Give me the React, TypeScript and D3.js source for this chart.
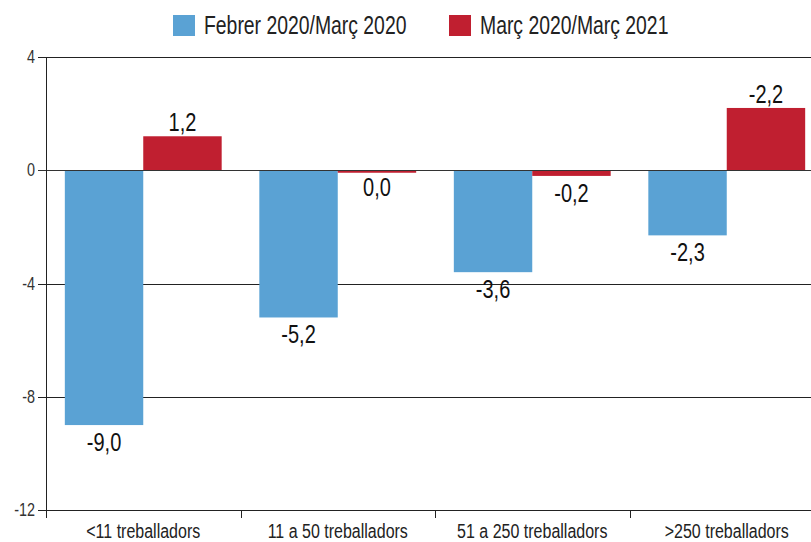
import React, { useEffect, useRef } from "react";
import * as d3 from "d3";

const categories = ["<11 treballadors", "11 a 50 treballadors", "51 a 250 treballadors", ">250 treballadors"];
const seriesNames = ["Febrer 2020/Març 2020", "Març 2020/Març 2021"];
const febMar2020 = [-9.0, -5.2, -3.6, -2.3];
const mar2020Mar2021 = [1.2, 0.0, -0.2, 2.2];
// labels as printed in the source chart
const febLabels = ["-9,0", "-5,2", "-3,6", "-2,3"];
const marLabels = ["1,2", "0,0", "-0,2", "-2,2"];
const yTicks = [4, 0, -4, -8, -12];

const colors = ["#5aa2d4", "#c01f30"];
const font = "'Liberation Sans', Arial, sans-serif";
const squeeze = 0.8; // source font is a condensed sans

const App = () => {
  const chartRef = useRef<HTMLDivElement>(null);

  useEffect(() => {
    const width = 811;
    const height = 542;
    const margin = { top: 57, left: 46, bottom: 32 };
    const bandW = 194.5;

    d3.select(chartRef.current).select("svg").remove();

    const svg = d3
      .select(chartRef.current)
      .append("svg")
      .attr("width", width)
      .attr("height", height)
      .style("display", "block")
      .style("font-family", font);

    const at = (px: number, py: number, k = squeeze) => `translate(${px},${py}) scale(${k},1)`;

    const x = d3
      .scaleBand()
      .domain(categories)
      .range([margin.left, margin.left + bandW * categories.length]);

    const x1 = d3
      .scaleBand()
      .domain(seriesNames)
      .range([0, bandW])
      .paddingOuter(0.24)
      .paddingInner(0);

    const y = d3.scaleLinear().domain([-12, 4]).range([height - margin.bottom, margin.top]);

    // gridlines
    svg
      .append("g")
      .selectAll("line")
      .data(yTicks)
      .enter()
      .append("line")
      .attr("x1", margin.left - 8)
      .attr("x2", width)
      .attr("y1", (d) => Math.round(y(d)) + 0.5)
      .attr("y2", (d) => Math.round(y(d)) + 0.5)
      .attr("stroke", "#222")
      .attr("stroke-width", 1);

    // y tick labels
    svg
      .append("g")
      .selectAll("text")
      .data(yTicks)
      .enter()
      .append("text")
      .attr("transform", (d) => at(margin.left - 11, y(d) + 6))
      .attr("text-anchor", "end")
      .attr("font-size", 18)
      .attr("fill", "#333")
      .text((d) => d);

    // bars
    const series = [febMar2020, mar2020Mar2021];
    const labels = [febLabels, marLabels];
    series.forEach((vals, si) => {
      const g = svg.append("g");
      g.selectAll("rect")
        .data(vals)
        .enter()
        .append("rect")
        .attr("x", (d, i) => x(categories[i])! + x1(seriesNames[si])!)
        .attr("y", (d) => (d > 0 ? y(d) : y(0)))
        .attr("width", x1.bandwidth())
        .attr("height", (d) => Math.max(2.5, Math.abs(y(d) - y(0))))
        .attr("fill", colors[si]);

      g.selectAll("text")
        .data(vals)
        .enter()
        .append("text")
        .attr("transform", (d, i) =>
          at(
            x(categories[i])! + x1(seriesNames[si])! + x1.bandwidth() / 2,
            d > 0 ? y(d) - 5 : y(d) + 26
          )
        )
        .attr("text-anchor", "middle")
        .attr("font-size", 25)
        .attr("fill", "#111")
        .text((d, i) => labels[si][i]);
    });

    // zero line on top
    svg
      .append("line")
      .attr("x1", margin.left - 8)
      .attr("x2", width)
      .attr("y1", Math.round(y(0)) + 0.5)
      .attr("y2", Math.round(y(0)) + 0.5)
      .attr("stroke", "#333");

    // y axis line
    svg
      .append("line")
      .attr("x1", margin.left + 0.5)
      .attr("x2", margin.left + 0.5)
      .attr("y1", y(4))
      .attr("y2", y(-12) + 8)
      .attr("stroke", "#222");

    // category ticks
    svg
      .append("g")
      .selectAll("line")
      .data(categories.slice(1))
      .enter()
      .append("line")
      .attr("x1", (d) => Math.round(x(d)!) + 0.5)
      .attr("x2", (d) => Math.round(x(d)!) + 0.5)
      .attr("y1", y(-12))
      .attr("y2", y(-12) + 8)
      .attr("stroke", "#222");

    // category labels
    svg
      .append("g")
      .selectAll("text")
      .data(categories)
      .enter()
      .append("text")
      .attr("transform", (d) => at(x(d)! + bandW / 2, y(-12) + 28))
      .attr("text-anchor", "middle")
      .attr("font-size", 20)
      .attr("fill", "#222")
      .text((d) => d);

    // legend
    const legendX = [173, 449];
    seriesNames.forEach((name, i) => {
      svg
        .append("rect")
        .attr("x", legendX[i])
        .attr("y", 15)
        .attr("width", 22)
        .attr("height", 21)
        .attr("fill", colors[i]);
      svg
        .append("text")
        .attr("transform", at(legendX[i] + 31, 34, 0.775))
        .attr("font-size", 25)
        .attr("fill", "#222")
        .text(name);
    });
  }, []);

  return <div ref={chartRef} style={{ position: "absolute", left: 0, top: 0 }}></div>;
};

export default App;
